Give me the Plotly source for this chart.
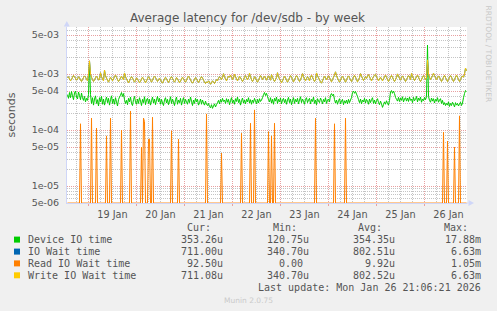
import pandas as pd
import plotly.graph_objects as go

# ---------------- data ----------------
end_time = pd.Timestamp("2026-01-26 21:00")
n_points = 400
times = pd.date_range(end=end_time, periods=n_points, freq="30min")

# Device IO time (microseconds), 30-min samples
device_us = [
    430, 370, 470, 380, 490, 410, 350, 460, 500, 390, 360, 480, 420, 350, 460, 380, 340, 400, 320, 370,
    340, 430, 1690, 430, 300, 380, 280, 360, 410, 300, 350, 270, 380, 320, 400, 290, 360, 280, 340, 390,
    310, 370, 280, 350, 410, 300, 360, 290, 380, 320, 270, 350, 390, 420, 470, 400, 450, 350, 300, 340,
    285, 370, 320, 390, 300, 275, 350, 400, 320, 290, 360, 300, 380, 330, 275, 355, 310, 395, 285, 345,
    370, 300, 355, 280, 335, 390, 305, 360, 285, 345, 400, 320, 370, 290, 355, 305, 275, 345, 380, 305,
    355, 285, 330, 395, 300, 360, 320, 275, 350, 390, 290, 345, 310, 370, 280, 335, 380, 300, 355, 320,
    290, 360, 310, 390, 330, 275, 345, 300, 370, 320, 355, 280, 310, 360, 290, 345, 305, 280, 330, 290,
    275, 300, 265, 250, 285, 245, 270, 295, 260, 285, 310, 340, 295, 355, 315, 370, 325, 345, 300, 365,
    315, 355, 285, 335, 380, 305, 345, 290, 365, 325, 390, 310, 355, 280, 335, 375, 305, 345, 295, 355,
    320, 380, 305, 350, 290, 345, 310, 370, 330, 295, 355, 305, 365, 325, 345, 380, 430, 470, 415, 455,
    400, 350, 320, 380, 305, 355, 290, 370, 330, 390, 300, 355, 320, 375, 295, 345, 370, 310, 355, 290,
    345, 385, 310, 360, 285, 335, 380, 300, 355, 320, 370, 295, 345, 395, 310, 360, 330, 290, 355, 380,
    310, 345, 370, 295, 355, 325, 390, 300, 345, 285, 365, 330, 310, 375, 340, 295, 355, 320, 380, 300,
    345, 360, 320, 420, 450, 410, 440, 350, 305, 345, 290, 335, 365, 295, 330, 355, 285, 335, 305, 345,
    295, 355, 310, 345, 380, 470, 500, 455, 490, 440, 400, 350, 310, 360, 295, 345, 320, 370, 305, 355,
    330, 290, 360, 310, 350, 380, 300, 345, 295, 335, 365, 310, 285, 330, 295, 255, 285, 320, 290, 335,
    300, 280, 340, 480, 510, 455, 500, 450, 385, 355, 330, 385, 325, 375, 340, 395, 320, 360, 380, 330,
    375, 325, 390, 340, 360, 310, 385, 335, 355, 400, 320, 375, 340, 390, 315, 360, 335, 385, 350, 395,
    3300, 400, 340, 315, 375, 330, 365, 305, 355, 330, 380, 315, 345, 365, 300, 340, 285, 310, 275, 300,
    280, 320, 265, 300, 275, 315, 290, 260, 310, 280, 300, 270, 295, 315, 275, 305, 380, 450, 510, 490,
]

# Write IO Wait time (microseconds)
write_us = [
    860, 900, 820, 760, 800, 880, 950, 900, 840, 780, 820, 900, 860, 790, 740, 800, 870, 930, 880, 810,
    760, 980, 1730, 1000, 880, 800, 740, 790, 860, 920, 860, 780, 820, 1060, 900, 820, 760, 1180, 940, 850,
    780, 720, 800, 880, 830, 760, 820, 910, 960, 880, 800, 740, 780, 860, 920, 850, 790, 1050, 900, 820,
    760, 700, 760, 840, 900, 850, 780, 720, 780, 860, 820, 760, 700, 740, 820, 880, 830, 760, 700, 760,
    830, 900, 850, 780, 720, 780, 860, 920, 870, 800, 740, 780, 850, 800, 730, 690, 750, 830, 880, 820,
    760, 710, 770, 850, 900, 840, 770, 720, 780, 870, 830, 760, 700, 750, 820, 880, 830, 760, 720, 780,
    860, 920, 860, 790, 730, 690, 740, 810, 870, 820, 760, 710, 760, 840, 900, 850, 780, 720, 680, 730,
    700, 760, 720, 660, 700, 760, 720, 680, 740, 800, 760, 840, 900, 860, 800, 880, 1020, 900, 820, 760,
    840, 920, 880, 960, 880, 800, 860, 1000, 900, 820, 760, 820, 920, 870, 800, 740, 800, 880, 940, 860,
    790, 870, 1040, 900, 800, 740, 800, 900, 860, 780, 720, 780, 860, 940, 880, 800, 860, 920, 850, 780,
    860, 930, 860, 780, 980, 880, 800, 740, 800, 880, 1060, 900, 820, 760, 700, 760, 840, 920, 860, 780,
    720, 780, 860, 940, 880, 800, 730, 790, 870, 940, 880, 800, 740, 800, 880, 1020, 900, 820, 760, 830,
    900, 840, 760, 880, 960, 880, 800, 740, 800, 1050, 940, 860, 790, 730, 690, 760, 840, 920, 860, 790,
    860, 930, 870, 790, 730, 800, 880, 960, 1100, 940, 850, 780, 720, 780, 860, 920, 860, 780, 720, 790,
    870, 930, 860, 790, 740, 800, 880, 950, 880, 800, 730, 790, 870, 1020, 920, 840, 770, 830, 900, 840,
    920, 980, 900, 820, 760, 830, 900, 960, 1000, 900, 820, 760, 820, 880, 820, 760, 820, 900, 960, 880,
    800, 740, 800, 880, 950, 880, 800, 740, 800, 880, 1010, 920, 840, 780, 860, 930, 870, 800, 740, 800,
    870, 940, 880, 800, 1030, 920, 840, 770, 830, 900, 960, 880, 800, 740, 800, 880, 940, 870, 800, 860,
    1800, 1000, 880, 800, 860, 940, 1040, 940, 860, 790, 850, 930, 880, 800, 740, 800, 880, 950, 870, 800,
    740, 800, 880, 940, 880, 800, 740, 800, 880, 960, 880, 800, 740, 800, 870, 930, 880, 1000, 1280, 1150,
]

# IO Wait time is practically identical to the write wait
io_wait_us = list(write_us)

# Read IO Wait time: zero except at these samples (microseconds)
read_spike_idx = [13, 24, 29, 39, 43, 54, 63, 74, 76, 77, 81, 82, 85, 104, 111,
                  139, 154, 174, 183, 187, 201, 204, 207, 248, 267, 278, 376, 380, 387, 392]
read_spike_us = [130, 164, 109, 79, 164, 100, 220, 50, 164, 142, 69, 69, 170, 97, 69,
                 195, 39, 88, 133, 230, 94, 79, 133, 164, 130, 164, 92, 64, 50, 180]
read_us = [0] * n_points
for i, v in zip(read_spike_idx, read_spike_us):
    read_us[i] = v

series_names = ["Device IO time", "IO Wait time", "Read IO Wait time", "Write IO Wait time"]
series_colors = ["#00CC00", "#0066B3", "#FF8000", "#FFCC00"]
stat_cur = ["353.26u", "711.00u", "92.50u", "711.08u"]
stat_min = ["120.75u", "340.70u", "0.00", "340.70u"]
stat_avg = ["354.35u", "802.51u", "9.92u", "802.52u"]
stat_max = ["17.88m", "6.63m", "1.05m", "6.63m"]

y_tickvals = [5e-6, 1e-5, 5e-5, 1e-4, 5e-4, 1e-3, 5e-3]
y_ticktext = ["5e-06", "1e-05", "5e-05", "1e-04", "5e-04", "1e-03", "5e-03"]
y_minor = [m * 10.0 ** d for d in range(-6, -2) for m in range(2, 10) if m != 5]

Y_MIN = 5e-6
Y_LOG_RANGE = [-5.30103, -2.158]
X_RANGE = ["2026-01-18 13:15", "2026-01-26 21:15"]

# ---------------- layout helpers ----------------
W, H = 497, 311
ML, MR, MT, MB = 67, 30, 27, 108
PW, PH = W - ML - MR, H - MT - MB


def px(x):
    return (x - ML) / PW


def py(y):
    return (H - MB - y) / PH


TXT = "#555555"
MONO = "DejaVu Sans Mono"
SANS = "DejaVu Sans"

fig = go.Figure()

to_s = lambda arr: [v * 1e-6 for v in arr]
data_series = [to_s(device_us), to_s(io_wait_us), [max(v * 1e-6, Y_MIN) for v in read_us], to_s(write_us)]
for name, col, vals in zip(series_names, series_colors, data_series):
    fig.add_trace(go.Scatter(x=times, y=vals, mode="lines", name=name,
                             line=dict(color=col, width=1, simplify=False),
                             hoverinfo="skip", showlegend=False))

GRID = "#C4C4C4"
MGRID = "#E8A0A0"

fig.update_xaxes(
    type="date", range=X_RANGE,
    tick0="2026-01-19", dtick=86400000, ticklabelmode="period", tickformat="%d %b",
    showgrid=True, gridcolor=MGRID, griddash="1px,1px", gridwidth=1,
    ticks="outside", ticklen=2, tickcolor=MGRID,
    minor=dict(dtick=21600000, showgrid=True, gridcolor=GRID, griddash="1px,1px", ticks=""),
    showline=True, linecolor="#CFD6F8", linewidth=1,
    tickfont=dict(family=SANS, size=9.7, color=TXT), zeroline=False,
)
fig.update_yaxes(
    type="log", range=Y_LOG_RANGE,
    tickmode="array", tickvals=y_tickvals, ticktext=y_ticktext,
    showgrid=True, gridcolor=MGRID, griddash="1px,1px", gridwidth=1,
    minor=dict(tickmode="array", tickvals=y_minor, showgrid=True, gridcolor=GRID, griddash="1px,1px", ticks=""),
    showline=True, linecolor="#CFD6F8", linewidth=1,
    ticks="", ticklabelstandoff=5,
    tickfont=dict(family=SANS, size=9.5, color=TXT), zeroline=False,
)

annotations = []


def text(x, y, s, anchor="left", size=10, color=TXT, family=MONO, angle=0):
    annotations.append(dict(x=px(x), y=py(y), xref="paper", yref="paper", text=s,
                            showarrow=False, xanchor=anchor, yanchor="middle",
                            textangle=angle, font=dict(family=family, size=size, color=color)))


# title and side texts
text(247.5, 18.5, "Average latency for /dev/sdb - by week", "center", 12, TXT, SANS)
text(11, 114.5, "seconds", "center", 11, TXT, SANS, -90)
text(488, 53.5, "RRDTOOL / TOBI OETIKER", "center", 7.5, "#C8C8C8", SANS, 90)

# legend table
hdr_y = 227.3
row_y = [239.6, 251.6, 263.4, 275.3]
hdr_right = [212.7, 299.0, 384.3, 470.0]
val_right = [225.3, 311.3, 396.7, 482.7]
for h, xr in zip(["Cur:", "Min:", "Avg:", "Max:"], hdr_right):
    text(xr, hdr_y, h, "right")

shapes = []
for k, name in enumerate(series_names):
    y = row_y[k]
    shapes.append(dict(type="rect", xref="paper", yref="paper",
                       x0=px(14), x1=px(20), y0=py(y + 3), y1=py(y - 3),
                       fillcolor=series_colors[k], line=dict(width=0)))
    text(26, y, name, "left")
    for vals, xr in zip([stat_cur, stat_min, stat_avg, stat_max], val_right):
        s = vals[k]
        if s[-1].isdigit():
            s = s + "\u00a0"
        text(xr, y, s, "right")

text(482.7, 287.7, "Last update: Mon Jan 26 21:06:21 2026", "right")
text(248, 300.3, "Munin 2.0.75", "center", 7.5, "#CACACA", SANS)

# axis arrows
AX = "#CFD6F8"
shapes.append(dict(type="path", xref="paper", yref="paper",
                   path=f"M {px(63.8)} {py(26.5)} L {px(69.8)} {py(26.5)} L {px(66.8)} {py(21)} Z",
                   fillcolor=AX, line=dict(width=0)))
shapes.append(dict(type="line", xref="paper", yref="paper",
                   x0=px(67), x1=px(67), y0=py(26.5), y1=1, line=dict(color=AX, width=1)))
shapes.append(dict(type="path", xref="paper", yref="paper",
                   path=f"M {px(468.5)} {py(200)} L {px(468.5)} {py(206)} L {px(474)} {py(203)} Z",
                   fillcolor=AX, line=dict(width=0)))
shapes.append(dict(type="line", xref="paper", yref="paper",
                   x0=1, x1=px(468.5), y0=0, y1=0, line=dict(color=AX, width=1)))

fig.update_layout(
    width=W, height=H, autosize=False,
    margin=dict(l=ML, r=MR, t=MT, b=MB),
    paper_bgcolor="#F0F0F0", plot_bgcolor="#FFFFFF",
    annotations=annotations, shapes=shapes, showlegend=False,
    font=dict(family=SANS, color=TXT),
)

fig.write_html("out.html", config={"displayModeBar": False})
